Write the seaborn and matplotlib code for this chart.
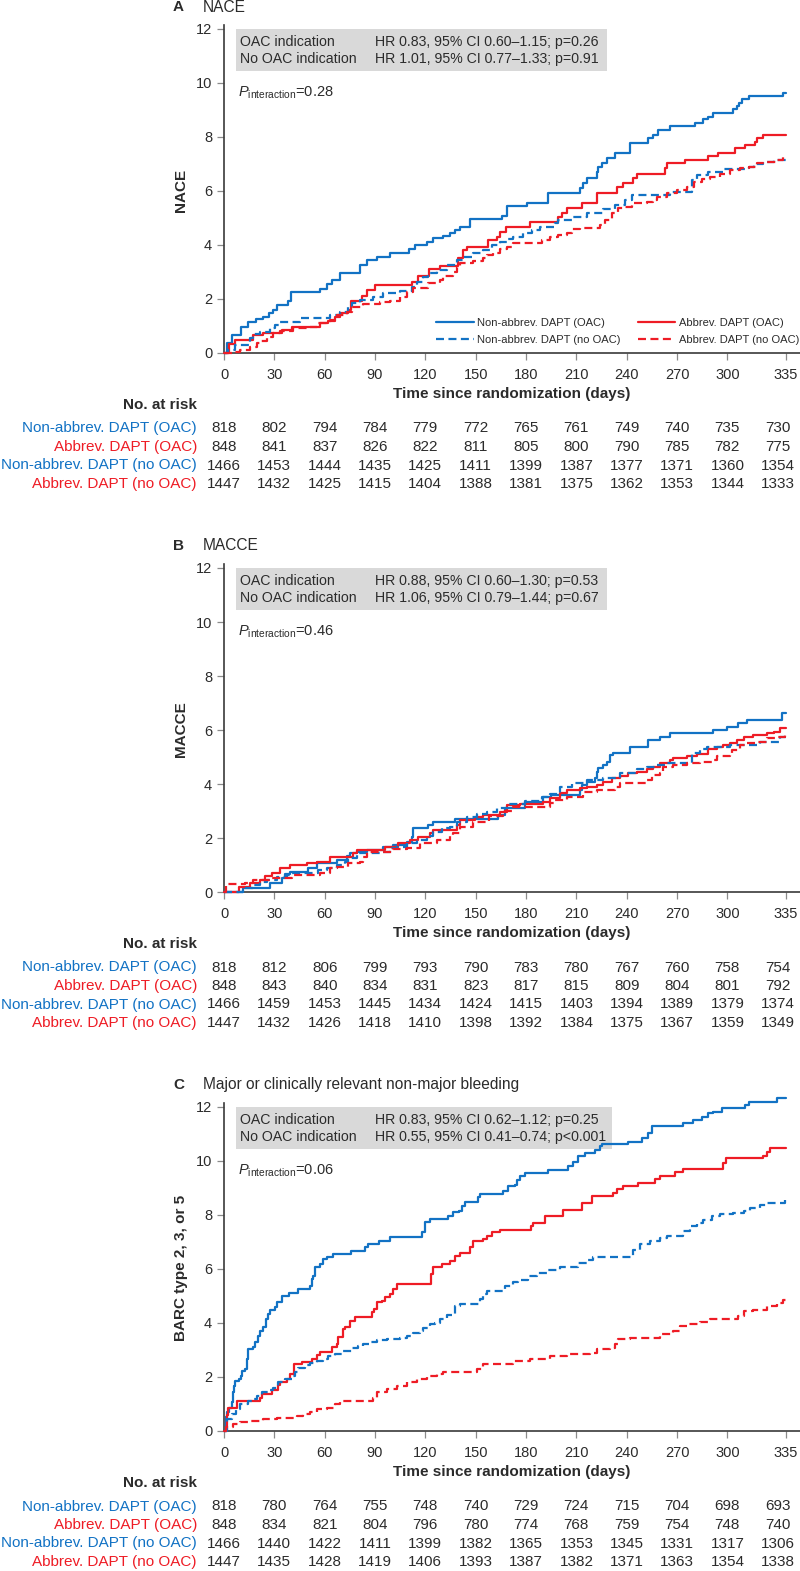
"""Cumulative incidence curves (NACE, MACCE, BARC 2/3/5 bleeding) by OAC indication."""

import matplotlib
matplotlib.use('Agg')
import matplotlib.pyplot as plt
import numpy as np
import seaborn as sns
from matplotlib.patches import Rectangle
from matplotlib.transforms import blended_transform_factory

# ---- data: (day, cumulative %) step points ----
nace_nonabbrev_oac = [(0, 0), (2.0, 0.36), (4.6, 0.67), (10.4, 0.98), (14.5, 1.16), (19.1, 1.25), (23.4, 1.35),
    (27.0, 1.49), (29.4, 1.59), (31.8, 1.78), (38.3, 1.94), (39.7, 2.25), (57.2, 2.37), (61.2, 2.56), (64.2, 2.7),
    (69.1, 2.95), (81.0, 3.26), (85.0, 3.44), (91.0, 3.57), (98.9, 3.69), (110.5, 3.84), (113.8, 4.0), (120.8, 4.12),
    (124.7, 4.25), (130.8, 4.33), (134.7, 4.43), (137.7, 4.56), (140.6, 4.68), (146.6, 4.95), (165.5, 5.07),
    (168.4, 5.44), (180.4, 5.57), (193.3, 5.94), (212.2, 6.1), (214.2, 6.28), (216.6, 6.47), (222.1, 6.72),
    (223.1, 6.9), (225.1, 7.02), (228.1, 7.21), (233.1, 7.42), (242.0, 7.79), (252.9, 7.95), (255.9, 8.07),
    (258.9, 8.26), (265.9, 8.4), (280.8, 8.53), (285.7, 8.65), (288.7, 8.75), (291.7, 8.88), (303.6, 9.03),
    (305.6, 9.15), (307.2, 9.27), (308.6, 9.4), (312.6, 9.52), (333.4, 9.64), (335, 9.64)]
nace_abbrev_oac = [(0, 0), (3.2, 0.33), (6.6, 0.5), (17.5, 0.67), (23.4, 0.75), (34.4, 0.85), (40.3, 0.98),
    (57.2, 1.1), (62.2, 1.2), (66.1, 1.32), (69.1, 1.47), (74.1, 1.59), (75.5, 1.94), (82.0, 2.12), (85.0, 2.33),
    (90.0, 2.52), (111.8, 2.64), (115.8, 2.85), (122.4, 3.1), (128.7, 3.22), (139.7, 3.51), (142.6, 3.81),
    (144.6, 3.94), (157.5, 4.19), (162.5, 4.31), (164.5, 4.49), (168.0, 4.68), (182.4, 4.86), (199.3, 5.05),
    (201.3, 5.2), (204.3, 5.36), (213.2, 5.57), (222.1, 5.91), (234.0, 6.16), (238.0, 6.31), (243.9, 6.47),
    (245.9, 6.63), (262.9, 6.84), (263.9, 7.02), (274.8, 7.15), (288.7, 7.3), (294.6, 7.42), (304.6, 7.58),
    (310.5, 7.7), (316.5, 7.83), (317.5, 7.95), (321.5, 8.07), (335, 8.07)]
nace_nonabbrev_nooac = [(0, 0), (2.6, 0.11), (6.6, 0.3), (15.5, 0.54), (17.5, 0.7), (21.4, 0.79), (27.4, 0.91),
    (30.4, 1.04), (33.4, 1.14), (45.3, 1.28), (63.2, 1.41), (69.1, 1.53), (74.1, 1.72), (76.1, 1.84), (81.0, 1.96),
    (89.0, 2.09), (94.9, 2.21), (104.9, 2.31), (111.8, 2.46), (114.8, 2.64), (118.8, 2.83), (121.8, 2.95),
    (126.7, 3.07), (132.7, 3.26), (138.7, 3.44), (142.6, 3.57), (148.6, 3.69), (154.6, 3.81), (159.5, 4.0),
    (164.5, 4.12), (168.5, 4.24), (172.4, 4.31), (178.4, 4.43), (183.4, 4.56), (188.3, 4.68), (197.3, 4.8),
    (199.3, 4.93), (207.2, 5.05), (216.2, 5.17), (226.1, 5.32), (233.1, 5.48), (239.0, 5.67), (243.0, 5.85),
    (265.9, 5.98), (278.8, 6.41), (281.8, 6.6), (288.7, 6.72), (297.6, 6.81), (312.6, 6.9), (315.6, 7.0),
    (321.5, 7.09), (327.5, 7.15), (335, 7.15)]
nace_abbrev_nooac = [(0, 0), (5.6, 0.05), (9.5, 0.11), (15.5, 0.23), (19.5, 0.36), (21.5, 0.46), (25.4, 0.6),
    (29.4, 0.75), (33.4, 0.81), (41.3, 0.91), (49.3, 0.98), (55.2, 1.1), (63.2, 1.22), (67.1, 1.41), (73.1, 1.53),
    (76.1, 1.72), (83.0, 1.81), (93.0, 1.9), (98.9, 1.94), (104.9, 2.09), (108.9, 2.27), (112.8, 2.4),
    (121.8, 2.58), (128.7, 2.7), (130.7, 2.85), (136.7, 3.01), (138.7, 3.2), (140.6, 3.35), (148.6, 3.42),
    (154.6, 3.51), (156.5, 3.63), (160.5, 3.72), (164.5, 3.84), (168.5, 3.94), (172.4, 4.06), (189.3, 4.19),
    (194.3, 4.31), (199.3, 4.37), (204.3, 4.46), (207.2, 4.58), (212.2, 4.62), (224.1, 4.74), (227.1, 4.93),
    (231.1, 5.17), (235.0, 5.36), (239.0, 5.42), (243.0, 5.54), (251.9, 5.61), (255.9, 5.67), (257.9, 5.79),
    (263.9, 5.91), (269.8, 6.04), (275.8, 6.16), (279.8, 6.35), (284.7, 6.43), (289.7, 6.53), (295.6, 6.63),
    (301.6, 6.78), (307.6, 6.84), (312.6, 6.9), (317.5, 7.02), (323.5, 7.09), (329.4, 7.15), (333.4, 7.27),
    (335, 7.27)]

macce_nonabbrev_oac = [(0, 0), (11.5, 0.14), (27.4, 0.32), (34.4, 0.51), (36.4, 0.67), (39.3, 0.75), (50.3, 0.88),
    (55.2, 1.06), (67.1, 1.19), (73.1, 1.33), (75.1, 1.43), (79.1, 1.5), (85.0, 1.56), (94.9, 1.68), (100.9, 1.74),
    (108.9, 1.86), (111.8, 2.05), (112.8, 2.38), (121.8, 2.48), (124.7, 2.6), (137.7, 2.69), (163.5, 2.85),
    (167.5, 3.1), (179.4, 3.35), (190.3, 3.53), (195.0, 3.59), (212.2, 3.78), (213.2, 3.96), (216.2, 4.09),
    (221.1, 4.21), (222.1, 4.46), (223.1, 4.58), (226.1, 4.7), (228.1, 4.83), (230.1, 5.07), (232.1, 5.16),
    (242.0, 5.38), (252.9, 5.63), (259.9, 5.73), (265.9, 5.88), (291.7, 6.0), (299.6, 6.12), (306.6, 6.25),
    (311.6, 6.37), (332.4, 6.62), (335, 6.62)]
macce_abbrev_oac = [(0, 0), (8.8, 0.2), (15.5, 0.32), (21.5, 0.44), (24.4, 0.59), (28.4, 0.69), (33.4, 0.88),
    (39.3, 1.0), (49.3, 1.06), (55.2, 1.12), (63.2, 1.28), (77.1, 1.43), (79.1, 1.56), (96.0, 1.68), (103.9, 1.8),
    (110.9, 1.93), (115.8, 2.05), (122.8, 2.17), (124.7, 2.3), (138.7, 2.48), (140.6, 2.67), (149.6, 2.79),
    (154.6, 2.85), (164.5, 2.98), (168.5, 3.22), (176.4, 3.26), (190.3, 3.35), (194.3, 3.47), (200.3, 3.65),
    (204.3, 3.78), (212.2, 3.84), (216.2, 3.9), (222.1, 3.96), (226.1, 4.09), (231.1, 4.21), (236.0, 4.3),
    (241.0, 4.4), (245.9, 4.46), (251.9, 4.54), (255.9, 4.62), (259.9, 4.77), (265.9, 4.89), (267.8, 4.95),
    (275.8, 5.04), (281.8, 5.11), (288.7, 5.28), (293.7, 5.36), (297.6, 5.44), (301.6, 5.53), (305.6, 5.63),
    (309.6, 5.73), (315.5, 5.81), (323.5, 5.88), (327.5, 5.94), (331.4, 6.06), (335, 6.06)]
macce_nonabbrev_nooac = [(0, 0), (11.5, 0.14), (17.5, 0.26), (21.5, 0.38), (25.4, 0.44), (31.4, 0.57),
    (37.3, 0.63), (40.3, 0.69), (56.2, 0.81), (61.2, 0.88), (67.1, 1.0), (72.1, 1.12), (74.1, 1.25), (79.1, 1.43),
    (91.0, 1.46), (94.0, 1.5), (98.9, 1.62), (102.9, 1.68), (108.9, 1.8), (114.8, 1.93), (120.8, 2.07),
    (124.7, 2.23), (129.7, 2.36), (134.7, 2.42), (138.7, 2.6), (144.6, 2.79), (150.6, 2.89), (156.5, 2.98),
    (162.5, 3.1), (169.5, 3.26), (179.4, 3.38), (189.3, 3.53), (194.3, 3.63), (200.3, 3.88), (207.2, 4.02),
    (216.2, 4.15), (226.1, 4.23), (236.0, 4.4), (245.9, 4.54), (251.9, 4.64), (257.9, 4.7), (263.9, 4.77),
    (278.8, 5.14), (283.8, 5.28), (287.7, 5.38), (301.6, 5.44), (319.5, 5.57), (331.4, 5.73), (335, 5.73)]
macce_abbrev_nooac = [(0, 0), (1.0, 0.3), (12.5, 0.35), (17.5, 0.44), (27.4, 0.51), (40.3, 0.63), (57.2, 0.72),
    (63.2, 0.88), (67.1, 0.94), (74.1, 1.06), (81.0, 1.12), (83.0, 1.3), (85.0, 1.5), (100.9, 1.58), (108.9, 1.62),
    (116.8, 1.8), (126.7, 1.93), (134.7, 2.11), (136.7, 2.2), (140.6, 2.42), (148.6, 2.6), (158.0, 2.8),
    (166.0, 3.0), (172.0, 3.16), (194.3, 3.28), (197.3, 3.41), (204.3, 3.53), (214.2, 3.72), (222.1, 3.78),
    (233.1, 3.9), (236.0, 4.02), (251.9, 4.15), (254.9, 4.33), (259.9, 4.4), (261.9, 4.64), (267.8, 4.7),
    (275.8, 4.77), (283.8, 4.83), (291.7, 4.89), (293.7, 5.04), (301.6, 5.07), (302.6, 5.26), (307.6, 5.44),
    (311.6, 5.51), (317.5, 5.57), (323.5, 5.69), (329.4, 5.75), (334.4, 5.88), (335, 5.88)]

barc_nonabbrev_oac = [(0, 0), (1.2, 0.51), (2.0, 0.69), (3.2, 0.84), (4.6, 1.06), (5.2, 1.43), (6.0, 1.68),
    (6.6, 1.86), (9.1, 1.93), (9.9, 2.05), (10.5, 2.23), (12.5, 2.3), (13.5, 2.67), (14.5, 3.04), (17.1, 3.1),
    (18.5, 3.28), (20.5, 3.53), (21.5, 3.72), (23.4, 3.84), (24.8, 4.15), (26.4, 4.33), (27.4, 4.49), (30.4, 4.58),
    (31.4, 4.77), (34.4, 4.99), (38.9, 5.11), (44.3, 5.26), (51.3, 5.38), (52.2, 5.63), (53.2, 5.75), (54.2, 6.06),
    (57.2, 6.19), (59.2, 6.37), (61.2, 6.43), (65.2, 6.56), (75.5, 6.68), (84.0, 6.81), (86.0, 6.93), (92.6, 7.05),
    (98.9, 7.17), (117.8, 7.36), (119.8, 7.73), (122.8, 7.85), (133.7, 7.98), (136.7, 8.1), (140.2, 8.16),
    (141.6, 8.35), (143.6, 8.49), (151.6, 8.65), (152.6, 8.78), (166.4, 8.9), (169.5, 9.06), (173.4, 9.12),
    (174.4, 9.31), (176.4, 9.43), (179.4, 9.55), (193.3, 9.68), (205.2, 9.8), (208.2, 9.98), (211.2, 10.17),
    (215.2, 10.29), (221.1, 10.41), (224.1, 10.54), (225.1, 10.62), (241.0, 10.72), (248.9, 10.84), (252.9, 11.03),
    (254.9, 11.28), (273.8, 11.4), (279.7, 11.52), (284.7, 11.64), (288.7, 11.77), (291.7, 11.83), (296.6, 11.95),
    (310.6, 12.08), (312.6, 12.2), (329.4, 12.32), (335, 12.32)]
barc_abbrev_oac = [(0, 0), (1.6, 0.59), (2.6, 0.84), (7.6, 1.11), (21.5, 1.21), (22.4, 1.36), (28.4, 1.52),
    (32.4, 1.7), (33.4, 1.81), (37.3, 1.93), (39.3, 2.11), (41.7, 2.48), (46.3, 2.57), (52.2, 2.67), (55.2, 2.81),
    (57.2, 2.94), (64.2, 3.1), (67.1, 3.22), (68.1, 3.47), (71.1, 3.78), (72.1, 3.84), (75.1, 4.09), (78.1, 4.21),
    (88.0, 4.4), (89.4, 4.52), (91.0, 4.77), (94.0, 4.83), (95.9, 4.95), (98.9, 5.07), (100.9, 5.26),
    (102.9, 5.44), (123.2, 5.81), (124.7, 6.06), (129.7, 6.19), (134.7, 6.3), (137.7, 6.47), (140.6, 6.59),
    (146.6, 6.81), (148.6, 7.05), (154.6, 7.11), (156.5, 7.24), (159.5, 7.36), (164.5, 7.46), (182.8, 7.58),
    (184.3, 7.71), (191.3, 7.95), (202.2, 8.2), (213.2, 8.44), (219.2, 8.69), (232.1, 8.81), (234.0, 8.96),
    (238.0, 9.06), (246.9, 9.2), (256.9, 9.33), (259.9, 9.45), (268.8, 9.58), (273.8, 9.7), (297.6, 9.92),
    (299.2, 10.1), (321.5, 10.19), (323.5, 10.35), (325.5, 10.48), (335, 10.48)]
barc_nonabbrev_nooac = [(0, 0), (1.6, 0.26), (2.0, 0.44), (4.6, 0.63), (7.2, 0.81), (9.5, 1.0), (14.5, 1.12),
    (17.5, 1.18), (19.5, 1.31), (22.4, 1.43), (26.4, 1.53), (29.4, 1.61), (32.4, 1.8), (36.4, 1.94), (40.3, 2.04),
    (42.3, 2.17), (44.3, 2.35), (48.3, 2.44), (51.3, 2.53), (55.2, 2.6), (59.2, 2.68), (62.2, 2.78), (66.1, 2.84),
    (71.1, 2.97), (76.1, 3.09), (80.1, 3.15), (83.0, 3.24), (87.0, 3.3), (91.0, 3.37), (96.9, 3.4), (104.9, 3.46),
    (108.9, 3.52), (112.8, 3.64), (116.8, 3.7), (118.8, 3.83), (122.8, 3.95), (125.7, 4.01), (128.7, 4.14),
    (132.7, 4.28), (136.7, 4.35), (137.7, 4.63), (140.6, 4.69), (152.6, 4.9), (154.6, 5.08), (156.5, 5.18),
    (167.5, 5.37), (172.4, 5.51), (175.4, 5.61), (181.4, 5.74), (186.3, 5.86), (192.3, 5.98), (200.0, 6.08),
    (211.2, 6.23), (216.2, 6.35), (220.0, 6.45), (244.0, 6.72), (248.0, 6.91), (253.9, 7.03), (259.9, 7.15),
    (263.9, 7.24), (273.8, 7.39), (277.8, 7.58), (281.8, 7.71), (285.7, 7.83), (290.7, 7.95), (295.6, 8.02),
    (303.6, 8.08), (309.6, 8.14), (313.6, 8.26), (319.5, 8.38), (323.5, 8.44), (334.4, 8.59), (335, 8.59)]
barc_abbrev_nooac = [(0, 0), (0.9, 0.13), (5.6, 0.26), (9.5, 0.32), (15.5, 0.38), (23.4, 0.44), (31.4, 0.47),
    (37.3, 0.5), (43.3, 0.57), (47.3, 0.63), (51.3, 0.69), (55.2, 0.81), (61.2, 0.87), (66.1, 1.0), (69.1, 1.12),
    (89.0, 1.24), (91.0, 1.43), (96.9, 1.55), (102.9, 1.67), (108.9, 1.8), (114.8, 1.92), (120.8, 2.02),
    (126.7, 2.11), (130.7, 2.19), (150.6, 2.29), (154.6, 2.48), (172.4, 2.6), (182.4, 2.66), (194.3, 2.78),
    (204.3, 2.84), (218.2, 2.9), (222.1, 3.03), (230.1, 3.09), (233.1, 3.21), (235.0, 3.39), (242.0, 3.46),
    (259.9, 3.58), (267.8, 3.71), (271.8, 3.89), (275.8, 3.95), (283.8, 4.04), (289.7, 4.14), (299.6, 4.16),
    (306.6, 4.26), (309.6, 4.44), (315.5, 4.5), (323.5, 4.63), (329.4, 4.75), (333.4, 4.87), (335, 4.87)]

# numbers at risk (rows: non-abbrev OAC, abbrev OAC, non-abbrev no OAC, abbrev no OAC)
nace_risk = [[818, 802, 794, 784, 779, 772, 765, 761, 749, 740, 735, 730],
             [848, 841, 837, 826, 822, 811, 805, 800, 790, 785, 782, 775],
             [1466, 1453, 1444, 1435, 1425, 1411, 1399, 1387, 1377, 1371, 1360, 1354],
             [1447, 1432, 1425, 1415, 1404, 1388, 1381, 1375, 1362, 1353, 1344, 1333]]
macce_risk = [[818, 812, 806, 799, 793, 790, 783, 780, 767, 760, 758, 754],
              [848, 843, 840, 834, 831, 823, 817, 815, 809, 804, 801, 792],
              [1466, 1459, 1453, 1445, 1434, 1424, 1415, 1403, 1394, 1389, 1379, 1374],
              [1447, 1432, 1426, 1418, 1410, 1398, 1392, 1384, 1375, 1367, 1359, 1349]]
barc_risk = [[818, 780, 764, 755, 748, 740, 729, 724, 715, 704, 698, 693],
             [848, 834, 821, 804, 796, 780, 774, 768, 759, 754, 748, 740],
             [1466, 1440, 1422, 1411, 1399, 1382, 1365, 1353, 1345, 1331, 1317, 1306],
             [1447, 1435, 1428, 1419, 1406, 1393, 1387, 1382, 1371, 1363, 1354, 1338]]

day_ticks = [0, 30, 60, 90, 120, 150, 180, 210, 240, 270, 300, 335]
group_labels = ['Non-abbrev. DAPT (OAC)', 'Abbrev. DAPT (OAC)',
                'Non-abbrev. DAPT (no OAC)', 'Abbrev. DAPT (no OAC)']
hr_oac = ['HR 0.83, 95% CI 0.60\u20131.15; p=0.26', 'HR 0.88, 95% CI 0.60\u20131.30; p=0.53',
          'HR 0.83, 95% CI 0.62\u20131.12; p=0.25']
hr_nooac = ['HR 1.01, 95% CI 0.77\u20131.33; p=0.91', 'HR 1.06, 95% CI 0.79\u20131.44; p=0.67',
            'HR 0.55, 95% CI 0.41\u20130.74; p<0.001']
p_interaction = ['0.28', '0.46', '0.06']
panel_letters = ['A', 'B', 'C']
panel_titles = ['NACE', 'MACCE', 'Major or clinically relevant non-major bleeding']
y_labels = ['NACE', 'MACCE', 'BARC type 2, 3, or 5']

# ---- style ----
sns.set_style('ticks')
plt.rcParams['font.family'] = ['Liberation Sans', 'DejaVu Sans']
plt.rcParams['mathtext.fontset'] = 'custom'
plt.rcParams['mathtext.rm'] = 'Liberation Sans'
plt.rcParams['mathtext.it'] = 'Liberation Sans:italic'

BLUE = '#1272c4'
RED = '#ee1c25'
INK = '#2b2b2b'
W, H = 800, 1571
PX_DAY = 1.678       # pixels per day
PX_UNIT = 27.0       # pixels per percentage point


def fx(px):
    return px / W


def fy(py):
    return 1 - py / H


fig = plt.figure(figsize=(W / 100, H / 100), dpi=100)

panel_curves = [
    [nace_nonabbrev_oac, nace_abbrev_oac, nace_nonabbrev_nooac, nace_abbrev_nooac],
    [macce_nonabbrev_oac, macce_abbrev_oac, macce_nonabbrev_nooac, macce_abbrev_nooac],
    [barc_nonabbrev_oac, barc_abbrev_oac, barc_nonabbrev_nooac, barc_abbrev_nooac],
]
panel_risk = [nace_risk, macce_risk, barc_risk]
box_right = [607, 607, 612]
row_colors = [BLUE, RED, BLUE, RED]
row_dashed = [False, False, True, True]
legend_order = [0, 2, 1, 3]
risk_cols = day_ticks[:-1] + [330]   # last column sits a little left of its tick

for i in range(3):
    y12 = 29 + 539 * i          # pixel row of the "12" tick
    base = y12 + 324            # pixel row of the x axis
    ax = fig.add_axes([fx(224), fy(base), 1 - fx(224), 328 / H])

    for k, pts in enumerate(panel_curves[i]):
        arr = np.array(pts)
        kw = dict(dashes=(3.6, 2.0)) if row_dashed[k] else dict(linestyle='-')
        sns.lineplot(x=arr[:, 0], y=arr[:, 1], ax=ax, color=row_colors[k], linewidth=1.6,
                     drawstyle='steps-post', estimator=None, sort=False, clip_on=False,
                     label=group_labels[k], zorder=3, **kw)

    ax.set_xlim(0, 576 / PX_DAY)
    ax.set_ylim(0, 12 + 4 / PX_UNIT)
    ax.set_xticks(day_ticks)
    ax.set_yticks(range(0, 13, 2))
    ax.set_xlabel('')
    ax.set_ylabel('')
    for s in ['top', 'right']:
        ax.spines[s].set_visible(False)
    for s in ['left', 'bottom']:
        ax.spines[s].set_color('#3a3a3a')
        ax.spines[s].set_linewidth(1.2)
    ax.tick_params(length=5, width=0.9, color='#8a8a8a', labelsize=10.5, labelcolor=INK)
    ax.tick_params(axis='x', pad=5.5)
    ax.tick_params(axis='y', pad=3.5)

    # HR box
    ax.add_patch(Rectangle(((236 - 224) / PX_DAY, (base - (y12 + 42)) / PX_UNIT),
                           (box_right[i] - 236) / PX_DAY, 42 / PX_UNIT,
                           facecolor='#d9d9d9', edgecolor='none', zorder=0.5))
    fig.text(fx(240), fy(y12 + 13), 'OAC indication', fontsize=10.2, color=INK, va='center')
    fig.text(fx(240), fy(y12 + 30), 'No OAC indication', fontsize=10.2, color=INK, va='center')
    fig.text(fx(375), fy(y12 + 13), hr_oac[i], fontsize=10.2, color=INK, va='center')
    fig.text(fx(375), fy(y12 + 30), hr_nooac[i], fontsize=10.2, color=INK, va='center')
    fig.text(fx(238), fy(y12 + 64), r'$\mathit{P}_{\mathrm{interaction}}$=' + p_interaction[i],
             fontsize=10.5, color=INK, va='center')

    # titles and axis labels
    fig.text(fx(173), fy(y12 - 22), panel_letters[i], fontsize=11, fontweight='bold', color=INK, va='center')
    fig.text(fx(203), fy(y12 - 22), panel_titles[i], fontsize=11.2, color=INK, va='center')
    fig.text(fx(181), fy(y12 + 161), y_labels[i], rotation=90, ha='center', va='center',
             fontsize=11, fontweight='bold', color=INK)
    fig.text(fx(512), fy(base + 41), 'Time since randomization (days)', ha='center', va='center',
             fontsize=11, fontweight='bold', color=INK)

    # numbers at risk
    fig.text(fx(197), fy(base + 52), 'No. at risk', ha='right', va='center',
             fontsize=11, fontweight='bold', color=INK)
    trans = blended_transform_factory(ax.transData, fig.transFigure)
    row_off = [75.5, 94, 112.5, 131]
    for r, row in enumerate(panel_risk[i]):
        fig.text(fx(197), fy(base + row_off[r]), group_labels[r], ha='right', va='center',
                 fontsize=11, color=row_colors[r])
        for d, n in zip(risk_cols, row):
            fig.text(d, fy(base + row_off[r]), str(n), transform=trans, ha='center', va='center',
                     fontsize=11, color=INK)

    if i == 0:
        handles, labels = ax.get_legend_handles_labels()
        ax.legend([handles[j] for j in legend_order], [labels[j] for j in legend_order],
                  ncol=2, loc='lower right', bbox_to_anchor=(fx(799), fy(345)),
                  bbox_transform=fig.transFigure, frameon=False, fontsize=8,
                  handlelength=3.4, handletextpad=0.3, columnspacing=1.5,
                  labelspacing=0.6, borderpad=0, borderaxespad=0, labelcolor=INK)
    else:
        ax.get_legend().remove()

fig.savefig('out.png', dpi=100)
